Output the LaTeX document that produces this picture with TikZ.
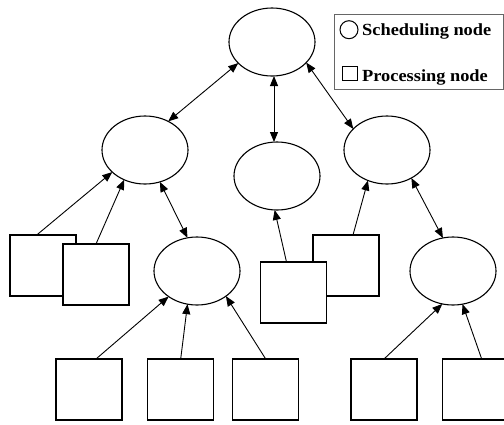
\documentclass[tikz,border=0pt]{standalone}
\usepackage{fontspec}
\setmainfont{Liberation Serif}
\newfontfamily\legfont[FakeStretch=1.08]{Liberation Serif Bold}
\usetikzlibrary{shapes.geometric,arrows.meta}
\definecolor{legborder}{HTML}{666666}
\begin{document}
\begin{tikzpicture}[x=1pt,y=-1pt,
  sched/.style={ellipse,draw,line width=1.1pt,minimum width=86pt,minimum height=68pt,inner sep=0pt,outer sep=0pt,fill=white},
  proc/.style={rectangle,draw,line width=1.1pt,minimum width=66pt,minimum height=61pt,inner sep=0pt,outer sep=0pt,fill=white},
  link/.style={line width=0.9pt,-{Triangle[length=10pt,width=8pt]}},
  blink/.style={line width=0.9pt,{Triangle[length=10pt,width=8pt]}-{Triangle[length=10pt,width=8pt]}},
  legtext/.style={anchor=base west,inner sep=0pt,font=\legfont\fontsize{17}{19}\selectfont}]
\useasboundingbox (0,0) rectangle (504,424);
\clip (0,0) rectangle (504,424);
% scheduling nodes
\node[sched] (T) at (272,42) {};
\node[sched] (L1) at (145,150) {};
\node[sched] (M1) at (277,176) {};
\node[sched] (R1) at (387,150) {};
\node[sched] (L2) at (197,271) {};
\node[sched] (R2) at (453,271) {};
% processing nodes
\node[proc] (A) at (43,265.5) {};
\node[proc] (B) at (96,274.5) {};
\node[proc] (D) at (346,265.5) {};
\node[proc] (C) at (293.5,292.5) {};
\node[proc] (S1) at (89,389.5) {};
\node[proc] (S2) at (180.7,389.5) {};
\node[proc] (S3) at (265.7,389.5) {};
\node[proc] (S4) at (384,389.5) {};
\node[proc] (S5) at (475.7,389.5) {};
% scheduling links
\draw[blink] (T.212.5) -- (L1.51);
\draw[blink] ([xshift=2pt]T.south) -- ([xshift=-3pt]M1.north);
\draw[blink] (T.-31.5) -- (R1.148.8);
\draw[blink] (L1.-65) -- (L2.106.7);
\draw[blink] (R1.-49) -- (R2.107);
% processing links
\draw[link] ([xshift=-6.3pt]A.north) -- (L1.214);
\draw[link] (B.north) -- (L1.235);
\draw[link] ([xshift=-7pt]C.north) -- (M1.266.6);
\draw[link] ([xshift=7pt]D.north) -- (R1.238.6);
\draw[link] ([xshift=7pt]S1.north) -- (L2.222.7);
\draw[link] (S2.north) -- (L2.-106);
\draw[link] (S3.north) -- (L2.-41.5);
\draw[link] (S4.north) -- (R2.-108);
\draw[link] ([xshift=6pt]S5.north) -- (R2.-74.5);
% legend
\node[draw=legborder,line width=1pt,minimum width=169pt,minimum height=74.5pt,inner sep=0pt,anchor=north west] (leg) at (334,14) {};
\node[circle,draw,line width=1pt,minimum size=18pt,inner sep=0pt] (lc) at (349,29.7) {};
\node[rectangle,draw,line width=1pt,minimum width=14.6pt,minimum height=14pt,inner sep=0pt] (ls) at (350,73) {};
\node[legtext] (lt1) at (362,35.3) {Scheduling node};
\node[legtext] (lt2) at (362,81.3) {Processing node};
\end{tikzpicture}
\end{document}
